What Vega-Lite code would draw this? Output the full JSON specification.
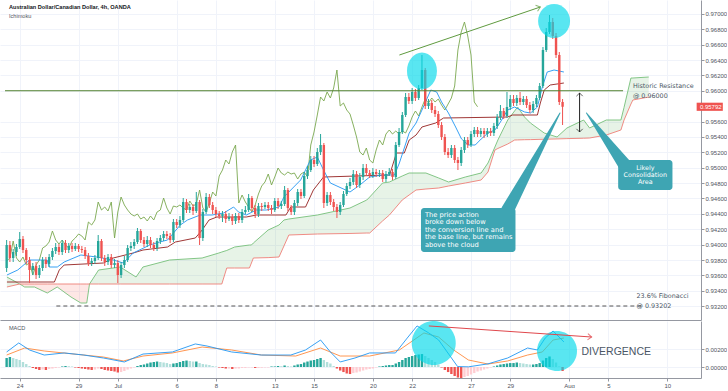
{
"$schema":"https://vega.github.io/schema/vega-lite/v6.json",
"padding":0,
"autosize":{"type":"pad"},
"background":"#ffffff",
"spacing":1,
"config":{"view":{"stroke":null},"axis":{"labelFont":"Liberation Sans","labelFontSize":6,"labelColor":"#50535e","domainColor":"#9598a1","tickColor":"#9598a1","gridColor":"#f0f3fa","labelOverlap":false}},
"datasets":{
"candles":[
{"n":-4,"o":0.93696,"h":0.9406,"l":0.93644,"c":0.93995,"m":0.001},
{"n":-3,"o":0.93995,"h":0.94047,"l":0.93774,"c":0.93826,"m":0.00111},
{"n":-2,"o":0.93826,"h":0.93943,"l":0.93774,"c":0.93904,"m":0.001},
{"n":-1,"o":0.93904,"h":0.94008,"l":0.93852,"c":0.93969,"m":0.00089},
{"n":0,"o":0.93969,"h":0.94164,"l":0.93943,"c":0.94073,"m":0.00078},
{"n":1,"o":0.94073,"h":0.94112,"l":0.93891,"c":0.9393,"m":0.00056},
{"n":2,"o":0.9393,"h":0.93956,"l":0.93748,"c":0.938,"m":0.00033},
{"n":3,"o":0.938,"h":0.93839,"l":0.93501,"c":0.9367,"m":0.00011},
{"n":4,"o":0.9367,"h":0.93761,"l":0.93605,"c":0.93722,"m":-0.00011},
{"n":5,"o":0.93722,"h":0.93774,"l":0.93553,"c":0.93605,"m":-0.00022},
{"n":6,"o":0.93605,"h":0.93735,"l":0.93566,"c":0.93696,"m":-0.00033},
{"n":7,"o":0.93696,"h":0.93839,"l":0.93657,"c":0.938,"m":-0.00028},
{"n":8,"o":0.938,"h":0.93839,"l":0.93696,"c":0.93748,"m":-0.00033},
{"n":9,"o":0.93748,"h":0.93878,"l":0.93709,"c":0.93839,"m":-0.00022},
{"n":10,"o":0.93839,"h":0.93956,"l":0.938,"c":0.93917,"m":-0.00017},
{"n":11,"o":0.93917,"h":0.94021,"l":0.93878,"c":0.93969,"m":-0.00011},
{"n":12,"o":0.93969,"h":0.94008,"l":0.93865,"c":0.93904,"m":-0.00006},
{"n":13,"o":0.93904,"h":0.9406,"l":0.93865,"c":0.94021,"m":0.00006},
{"n":14,"o":0.94021,"h":0.9406,"l":0.93891,"c":0.9393,"m":0.00011},
{"n":15,"o":0.9393,"h":0.94021,"l":0.93891,"c":0.93982,"m":0.00009},
{"n":16,"o":0.93982,"h":0.94021,"l":0.93904,"c":0.93943,"m":0.00006},
{"n":17,"o":0.93943,"h":0.94021,"l":0.93917,"c":0.93982,"m":-0.00006},
{"n":18,"o":0.93982,"h":0.94008,"l":0.93904,"c":0.93943,"m":-0.00011},
{"n":19,"o":0.93943,"h":0.93982,"l":0.93891,"c":0.9393,"m":-0.00017},
{"n":20,"o":0.9393,"h":0.93969,"l":0.93813,"c":0.93852,"m":-0.00022},
{"n":21,"o":0.93852,"h":0.93891,"l":0.93722,"c":0.93761,"m":-0.00028},
{"n":22,"o":0.93761,"h":0.93826,"l":0.93722,"c":0.93787,"m":-0.00033},
{"n":23,"o":0.93787,"h":0.93865,"l":0.93748,"c":0.93826,"m":-0.00028},
{"n":24,"o":0.93826,"h":0.94125,"l":0.938,"c":0.94047,"m":-0.00017},
{"n":25,"o":0.94047,"h":0.94073,"l":0.93787,"c":0.93826,"m":-0.00022},
{"n":26,"o":0.93826,"h":0.93865,"l":0.93722,"c":0.93774,"m":-0.00033},
{"n":27,"o":0.93774,"h":0.93878,"l":0.93735,"c":0.93839,"m":-0.00039},
{"n":28,"o":0.93839,"h":0.93878,"l":0.93696,"c":0.93735,"m":-0.00044},
{"n":29,"o":0.93735,"h":0.93813,"l":0.93696,"c":0.93761,"m":-0.0005},
{"n":30,"o":0.93761,"h":0.938,"l":0.93501,"c":0.93605,"m":-0.00061},
{"n":31,"o":0.93605,"h":0.93774,"l":0.93566,"c":0.93735,"m":-0.00056},
{"n":32,"o":0.93735,"h":0.93852,"l":0.93696,"c":0.938,"m":-0.00044},
{"n":33,"o":0.938,"h":0.93995,"l":0.93774,"c":0.93956,"m":-0.00028},
{"n":34,"o":0.93956,"h":0.94034,"l":0.93917,"c":0.93982,"m":-0.00017},
{"n":35,"o":0.93982,"h":0.94073,"l":0.93943,"c":0.94034,"m":-0.00006},
{"n":36,"o":0.94034,"h":0.94216,"l":0.94008,"c":0.94177,"m":0.00011},
{"n":37,"o":0.94177,"h":0.94203,"l":0.94021,"c":0.9406,"m":0.00022},
{"n":38,"o":0.9406,"h":0.94099,"l":0.93969,"c":0.94008,"m":0.00028},
{"n":39,"o":0.94008,"h":0.94112,"l":0.93969,"c":0.9406,"m":0.00039},
{"n":40,"o":0.9406,"h":0.94099,"l":0.93956,"c":0.93995,"m":0.0005},
{"n":41,"o":0.93995,"h":0.94034,"l":0.93917,"c":0.93956,"m":0.00056},
{"n":42,"o":0.93956,"h":0.94086,"l":0.93917,"c":0.94047,"m":0.00061},
{"n":43,"o":0.94047,"h":0.94125,"l":0.94008,"c":0.94086,"m":0.00056},
{"n":44,"o":0.94086,"h":0.94177,"l":0.94047,"c":0.94138,"m":0.0005},
{"n":45,"o":0.94138,"h":0.94177,"l":0.94073,"c":0.94112,"m":0.00044},
{"n":46,"o":0.94112,"h":0.94151,"l":0.94021,"c":0.9406,"m":0.00033},
{"n":47,"o":0.9406,"h":0.94333,"l":0.94034,"c":0.94294,"m":0.00039},
{"n":48,"o":0.94294,"h":0.94333,"l":0.94216,"c":0.94255,"m":0.00044},
{"n":49,"o":0.94255,"h":0.94372,"l":0.94216,"c":0.9432,"m":0.00056},
{"n":50,"o":0.9432,"h":0.94606,"l":0.94294,"c":0.94554,"m":0.00067},
{"n":51,"o":0.94554,"h":0.94593,"l":0.94411,"c":0.9445,"m":0.00072},
{"n":52,"o":0.9445,"h":0.94528,"l":0.94411,"c":0.94489,"m":0.00067},
{"n":53,"o":0.94489,"h":0.94528,"l":0.94385,"c":0.94437,"m":0.00061},
{"n":54,"o":0.94437,"h":0.94684,"l":0.94411,"c":0.94554,"m":0.00061},
{"n":55,"o":0.94554,"h":0.9458,"l":0.93995,"c":0.94086,"m":0.00044},
{"n":56,"o":0.94086,"h":0.94463,"l":0.94047,"c":0.94424,"m":0.00033},
{"n":57,"o":0.94424,"h":0.94671,"l":0.94398,"c":0.94619,"m":0.00028},
{"n":58,"o":0.94619,"h":0.94658,"l":0.94476,"c":0.94515,"m":0.00022},
{"n":59,"o":0.94515,"h":0.94554,"l":0.94398,"c":0.9445,"m":0.00011},
{"n":60,"o":0.9445,"h":0.94489,"l":0.94359,"c":0.94398,"m":0.00006},
{"n":61,"o":0.94398,"h":0.94437,"l":0.94333,"c":0.94372,"m":-0.00006},
{"n":62,"o":0.94372,"h":0.94437,"l":0.94294,"c":0.94398,"m":-0.00011},
{"n":63,"o":0.94398,"h":0.94437,"l":0.94281,"c":0.94333,"m":-0.00017},
{"n":64,"o":0.94333,"h":0.94411,"l":0.94307,"c":0.94359,"m":-0.00017},
{"n":65,"o":0.94359,"h":0.94398,"l":0.94255,"c":0.94307,"m":-0.00022},
{"n":66,"o":0.94307,"h":0.94411,"l":0.94268,"c":0.94372,"m":-0.00017},
{"n":67,"o":0.94372,"h":0.94411,"l":0.94281,"c":0.9432,"m":-0.00017},
{"n":68,"o":0.9432,"h":0.94463,"l":0.94281,"c":0.94424,"m":-0.00011},
{"n":69,"o":0.94424,"h":0.94502,"l":0.94398,"c":0.9445,"m":-0.00011},
{"n":70,"o":0.9445,"h":0.94658,"l":0.94424,"c":0.94606,"m":-0.00006},
{"n":71,"o":0.94606,"h":0.94632,"l":0.94437,"c":0.94476,"m":-0.00006},
{"n":72,"o":0.94476,"h":0.94515,"l":0.94346,"c":0.94398,"m":-0.00011},
{"n":73,"o":0.94398,"h":0.94541,"l":0.94359,"c":0.94502,"m":-0.00011},
{"n":74,"o":0.94502,"h":0.94541,"l":0.94437,"c":0.94489,"m":-0.00009},
{"n":75,"o":0.94489,"h":0.94554,"l":0.94463,"c":0.94515,"m":-0.00006},
{"n":76,"o":0.94515,"h":0.94554,"l":0.94437,"c":0.94476,"m":-0.00006},
{"n":77,"o":0.94476,"h":0.94515,"l":0.94398,"c":0.9445,"m":0.00006},
{"n":78,"o":0.9445,"h":0.94606,"l":0.94424,"c":0.94567,"m":0.00006},
{"n":79,"o":0.94567,"h":0.94606,"l":0.94463,"c":0.94502,"m":0.00011},
{"n":80,"o":0.94502,"h":0.94567,"l":0.94463,"c":0.94528,"m":0.00009},
{"n":81,"o":0.94528,"h":0.94762,"l":0.94502,"c":0.9471,"m":0.00017},
{"n":82,"o":0.9471,"h":0.94736,"l":0.94437,"c":0.94476,"m":0.00011},
{"n":83,"o":0.94476,"h":0.94515,"l":0.94385,"c":0.94424,"m":0.00006},
{"n":84,"o":0.94424,"h":0.9458,"l":0.94385,"c":0.94541,"m":0.00017},
{"n":85,"o":0.94541,"h":0.94723,"l":0.94502,"c":0.94684,"m":0.00028},
{"n":86,"o":0.94684,"h":0.94723,"l":0.94593,"c":0.94632,"m":0.00033},
{"n":87,"o":0.94632,"h":0.94944,"l":0.94606,"c":0.94892,"m":0.0005},
{"n":88,"o":0.94892,"h":0.95022,"l":0.94853,"c":0.9497,"m":0.00061},
{"n":89,"o":0.9497,"h":0.95152,"l":0.94944,"c":0.951,"m":0.00072},
{"n":90,"o":0.951,"h":0.95152,"l":0.95009,"c":0.95048,"m":0.00078},
{"n":91,"o":0.95048,"h":0.95256,"l":0.95022,"c":0.95204,"m":0.00089},
{"n":92,"o":0.95204,"h":0.95438,"l":0.95165,"c":0.95295,"m":0.001},
{"n":93,"o":0.95295,"h":0.95321,"l":0.94476,"c":0.94541,"m":0.00078},
{"n":94,"o":0.94541,"h":0.94684,"l":0.94502,"c":0.94645,"m":0.00056},
{"n":95,"o":0.94645,"h":0.94684,"l":0.94515,"c":0.94554,"m":0.00039},
{"n":96,"o":0.94554,"h":0.94593,"l":0.94437,"c":0.94489,"m":0.00011},
{"n":97,"o":0.94489,"h":0.94528,"l":0.94346,"c":0.94424,"m":-0.00017},
{"n":98,"o":0.94424,"h":0.94554,"l":0.94385,"c":0.94515,"m":-0.00039},
{"n":99,"o":0.94515,"h":0.94697,"l":0.94489,"c":0.94658,"m":-0.00056},
{"n":100,"o":0.94658,"h":0.94801,"l":0.94632,"c":0.94762,"m":-0.00072},
{"n":101,"o":0.94762,"h":0.94866,"l":0.94723,"c":0.94814,"m":-0.00078},
{"n":102,"o":0.94814,"h":0.9497,"l":0.94775,"c":0.94918,"m":-0.00067},
{"n":103,"o":0.94918,"h":0.94957,"l":0.94736,"c":0.94775,"m":-0.00061},
{"n":104,"o":0.94775,"h":0.94931,"l":0.94736,"c":0.94879,"m":-0.0005},
{"n":105,"o":0.94879,"h":0.95048,"l":0.9484,"c":0.94996,"m":-0.00039},
{"n":106,"o":0.94996,"h":0.95048,"l":0.94892,"c":0.94931,"m":-0.00028},
{"n":107,"o":0.94931,"h":0.9497,"l":0.94866,"c":0.94905,"m":-0.00022},
{"n":108,"o":0.94905,"h":0.94996,"l":0.94866,"c":0.94944,"m":-0.00017},
{"n":109,"o":0.94944,"h":0.94983,"l":0.94879,"c":0.94918,"m":-0.00006},
{"n":110,"o":0.94918,"h":0.9497,"l":0.94879,"c":0.94931,"m":0.00006},
{"n":111,"o":0.94931,"h":0.9497,"l":0.94814,"c":0.94853,"m":0.00011},
{"n":112,"o":0.94853,"h":0.94957,"l":0.94814,"c":0.94918,"m":0.00017},
{"n":113,"o":0.94918,"h":0.94996,"l":0.94892,"c":0.94944,"m":0.00022},
{"n":114,"o":0.94944,"h":0.94983,"l":0.9484,"c":0.94879,"m":0.00022},
{"n":115,"o":0.94879,"h":0.95334,"l":0.94853,"c":0.95295,"m":0.00039},
{"n":116,"o":0.95295,"h":0.95516,"l":0.95269,"c":0.95464,"m":0.00056},
{"n":117,"o":0.95464,"h":0.95724,"l":0.95438,"c":0.95685,"m":0.00078},
{"n":118,"o":0.95685,"h":0.95971,"l":0.95659,"c":0.95919,"m":0.001},
{"n":119,"o":0.95919,"h":0.95971,"l":0.95828,"c":0.95867,"m":0.00111},
{"n":120,"o":0.95867,"h":0.96036,"l":0.95828,"c":0.95984,"m":0.00122},
{"n":121,"o":0.95984,"h":0.96023,"l":0.95867,"c":0.95906,"m":0.00133},
{"n":122,"o":0.95906,"h":0.96075,"l":0.9588,"c":0.96036,"m":0.00139},
{"n":123,"o":0.96036,"h":0.96465,"l":0.9601,"c":0.9627,"m":0.00144},
{"n":124,"o":0.9627,"h":0.96296,"l":0.95763,"c":0.95802,"m":0.00122},
{"n":125,"o":0.95802,"h":0.95893,"l":0.95763,"c":0.95841,"m":0.001},
{"n":126,"o":0.95841,"h":0.9588,"l":0.95711,"c":0.9575,"m":0.00078},
{"n":127,"o":0.9575,"h":0.95802,"l":0.95659,"c":0.95698,"m":0.00056},
{"n":128,"o":0.95698,"h":0.95737,"l":0.95516,"c":0.95555,"m":0.00028},
{"n":129,"o":0.95555,"h":0.95594,"l":0.9536,"c":0.95399,"m":-0.00006},
{"n":130,"o":0.95399,"h":0.95438,"l":0.95165,"c":0.95204,"m":-0.00033},
{"n":131,"o":0.95204,"h":0.95256,"l":0.95126,"c":0.95165,"m":-0.00056},
{"n":132,"o":0.95165,"h":0.95295,"l":0.95126,"c":0.95256,"m":-0.00078},
{"n":133,"o":0.95256,"h":0.95295,"l":0.95061,"c":0.951,"m":-0.001},
{"n":134,"o":0.951,"h":0.95139,"l":0.9497,"c":0.95061,"m":-0.00117},
{"n":135,"o":0.95061,"h":0.95269,"l":0.95022,"c":0.9523,"m":-0.00122},
{"n":136,"o":0.9523,"h":0.95399,"l":0.95191,"c":0.9536,"m":-0.00111},
{"n":137,"o":0.9536,"h":0.95399,"l":0.95256,"c":0.95295,"m":-0.001},
{"n":138,"o":0.95295,"h":0.95477,"l":0.95269,"c":0.95438,"m":-0.00083},
{"n":139,"o":0.95438,"h":0.95529,"l":0.95399,"c":0.9549,"m":-0.00067},
{"n":140,"o":0.9549,"h":0.95529,"l":0.95399,"c":0.95438,"m":-0.0005},
{"n":141,"o":0.95438,"h":0.95516,"l":0.95399,"c":0.95477,"m":-0.00039},
{"n":142,"o":0.95477,"h":0.95516,"l":0.95386,"c":0.95438,"m":-0.00028},
{"n":143,"o":0.95438,"h":0.95516,"l":0.95399,"c":0.95477,"m":-0.00017},
{"n":144,"o":0.95477,"h":0.95516,"l":0.95412,"c":0.95451,"m":-0.00006},
{"n":145,"o":0.95451,"h":0.95581,"l":0.95412,"c":0.95542,"m":0.00006},
{"n":146,"o":0.95542,"h":0.95698,"l":0.95503,"c":0.95659,"m":0.00017},
{"n":147,"o":0.95659,"h":0.95815,"l":0.9562,"c":0.95737,"m":0.00028},
{"n":148,"o":0.95737,"h":0.95776,"l":0.95633,"c":0.95672,"m":0.00033},
{"n":149,"o":0.95672,"h":0.95984,"l":0.95646,"c":0.95789,"m":0.00039},
{"n":150,"o":0.95789,"h":0.95945,"l":0.9575,"c":0.95893,"m":0.00044},
{"n":151,"o":0.95893,"h":0.95945,"l":0.95802,"c":0.95841,"m":0.00044},
{"n":152,"o":0.95841,"h":0.95945,"l":0.95802,"c":0.95906,"m":0.0005},
{"n":153,"o":0.95906,"h":0.95984,"l":0.95815,"c":0.95854,"m":0.00044},
{"n":154,"o":0.95854,"h":0.95932,"l":0.95815,"c":0.95893,"m":0.00039},
{"n":155,"o":0.95893,"h":0.95932,"l":0.95776,"c":0.95815,"m":0.00033},
{"n":156,"o":0.95815,"h":0.95854,"l":0.95711,"c":0.9575,"m":0.00028},
{"n":157,"o":0.9575,"h":0.95867,"l":0.95711,"c":0.95828,"m":0.00028},
{"n":158,"o":0.95828,"h":0.95945,"l":0.95789,"c":0.95906,"m":0.00033},
{"n":159,"o":0.95906,"h":0.96101,"l":0.9588,"c":0.96062,"m":0.00044},
{"n":160,"o":0.96062,"h":0.96569,"l":0.96036,"c":0.9653,"m":0.00072},
{"n":161,"o":0.9653,"h":0.96816,"l":0.96504,"c":0.96764,"m":0.001},
{"n":162,"o":0.96764,"h":0.96985,"l":0.96738,"c":0.96894,"m":0.00117},
{"n":163,"o":0.96894,"h":0.96946,"l":0.96673,"c":0.96712,"m":0.00089},
{"n":164,"o":0.96712,"h":0.96751,"l":0.96426,"c":0.96465,"m":0.0005},
{"n":165,"o":0.96465,"h":0.96504,"l":0.95815,"c":0.95854,"m":0.00006},
{"n":166,"o":0.95854,"h":0.95893,"l":0.95555,"c":0.95792,"m":-0.00044}
],
"cloud":[
{"n":-3.92,"a":0.93579,"b":0.93449,"s":"g1"},
{"n":0,"a":0.93488,"b":0.93488,"s":"g1"},
{"n":0,"a":0.93488,"b":0.93488,"s":"r"},
{"n":1.51,"a":0.93449,"b":0.93488,"s":"r"},
{"n":4.52,"a":0.93449,"b":0.93488,"s":"r"},
{"n":8.44,"a":0.93371,"b":0.93488,"s":"r"},
{"n":11.46,"a":0.93449,"b":0.93488,"s":"r"},
{"n":15.68,"a":0.93319,"b":0.93488,"s":"r"},
{"n":18.69,"a":0.93241,"b":0.93488,"s":"r"},
{"n":20.5,"a":0.93241,"b":0.93488,"s":"r"},
{"n":21.34,"a":0.93488,"b":0.93488,"s":"r"},
{"n":21.34,"a":0.93488,"b":0.93488,"s":"g2"},
{"n":24.12,"a":0.9367,"b":0.93488,"s":"g2"},
{"n":30.75,"a":0.93709,"b":0.93488,"s":"g2"},
{"n":35.57,"a":0.93579,"b":0.93488,"s":"g2"},
{"n":37.68,"a":0.93709,"b":0.93488,"s":"g2"},
{"n":45.82,"a":0.938,"b":0.93488,"s":"g2"},
{"n":55.77,"a":0.93826,"b":0.93488,"s":"g2"},
{"n":60.9,"a":0.93891,"b":0.93488,"s":"g2"},
{"n":61.8,"a":0.93904,"b":0.93488,"s":"g2"},
{"n":63.31,"a":0.93924,"b":0.93696,"s":"g2"},
{"n":65.72,"a":0.93969,"b":0.93696,"s":"g2"},
{"n":70.24,"a":0.93995,"b":0.93696,"s":"g2"},
{"n":70.85,"a":0.93995,"b":0.93761,"s":"g2"},
{"n":71.45,"a":0.94021,"b":0.93826,"s":"g2"},
{"n":75.97,"a":0.9419,"b":0.93831,"s":"g2"},
{"n":79.29,"a":0.94255,"b":0.93839,"s":"g2"},
{"n":80.8,"a":0.9432,"b":0.93982,"s":"g2"},
{"n":82.3,"a":0.94333,"b":0.94125,"s":"g2"},
{"n":91.05,"a":0.94385,"b":0.94138,"s":"g2"},
{"n":100.99,"a":0.94476,"b":0.94145,"s":"g2"},
{"n":106.12,"a":0.9458,"b":0.94151,"s":"g2"},
{"n":107.03,"a":0.94619,"b":0.94151,"s":"g2"},
{"n":110.94,"a":0.94801,"b":0.94307,"s":"g2"},
{"n":113.05,"a":0.94814,"b":0.94385,"s":"g2"},
{"n":116.97,"a":0.94892,"b":0.9458,"s":"g2"},
{"n":119.08,"a":0.94931,"b":0.94645,"s":"g2"},
{"n":121.19,"a":0.94931,"b":0.9471,"s":"g2"},
{"n":124.21,"a":0.94931,"b":0.94723,"s":"g2"},
{"n":128.13,"a":0.94866,"b":0.94736,"s":"g2"},
{"n":131.14,"a":0.94814,"b":0.94762,"s":"g2"},
{"n":136.27,"a":0.94879,"b":0.94801,"s":"g2"},
{"n":141.09,"a":0.94931,"b":0.9484,"s":"g2"},
{"n":143.2,"a":0.95061,"b":0.94944,"s":"g2"},
{"n":145.31,"a":0.95269,"b":0.9523,"s":"g2"},
{"n":146.22,"a":0.9536,"b":0.9525,"s":"g2"},
{"n":149.23,"a":0.9562,"b":0.95308,"s":"g2"},
{"n":151.34,"a":0.95738,"b":0.9536,"s":"g2"},
{"n":152.25,"a":0.95789,"b":0.95361,"s":"g2"},
{"n":154.36,"a":0.95659,"b":0.95364,"s":"g2"},
{"n":156.17,"a":0.95581,"b":0.95365,"s":"g2"},
{"n":160.39,"a":0.95451,"b":0.9537,"s":"g2"},
{"n":164.31,"a":0.95399,"b":0.95374,"s":"g2"},
{"n":167.32,"a":0.95516,"b":0.95378,"s":"g2"},
{"n":172.45,"a":0.9562,"b":0.95383,"s":"g2"},
{"n":174.26,"a":0.95516,"b":0.95386,"s":"g2"},
{"n":179.38,"a":0.9562,"b":0.95425,"s":"g2"},
{"n":183.84,"a":0.9562,"b":0.9549,"s":"g2"},
{"n":184.8,"a":0.95784,"b":0.9562,"s":"g2"},
{"n":186.9,"a":0.96166,"b":0.95828,"s":"g2"},
{"n":187.5,"a":0.96166,"b":0.9588,"s":"g2"},
{"n":192.35,"a":0.96179,"b":0.95919,"s":"g2"}
],
"tenkan":[
{"n":-3.9,"p":0.93605},{"n":-0.6,"p":0.9367},{"n":3.0,"p":0.938},{"n":8.4,"p":0.938},{"n":9.0,"p":0.93709},{"n":11.5,"p":0.93709},{"n":13.6,"p":0.93774},{"n":18.7,"p":0.93865},{"n":23.5,"p":0.93839},{"n":28.6,"p":0.938},{"n":31.7,"p":0.93761},{"n":34.7,"p":0.93891},{"n":39.8,"p":0.93995},{"n":42.8,"p":0.94034},{"n":45.2,"p":0.9406},{"n":49.1,"p":0.94255},{"n":51.3,"p":0.9432},{"n":55.2,"p":0.94385},{"n":58.8,"p":0.94385},{"n":62.4,"p":0.94411},{"n":65.4,"p":0.94489},{"n":66.9,"p":0.94424},{"n":69.3,"p":0.94385},{"n":72.3,"p":0.9445},{"n":75.4,"p":0.9445},{"n":79.3,"p":0.94489},{"n":80.8,"p":0.94619},{"n":83.8,"p":0.94749},{"n":85.9,"p":0.9484},{"n":88.9,"p":0.951},{"n":91.0,"p":0.95139},{"n":92.9,"p":0.9497},{"n":95.0,"p":0.94801},{"n":101.0,"p":0.94684},{"n":104.0,"p":0.94775},{"n":107.0,"p":0.94879},{"n":110.9,"p":0.94905},{"n":114.6,"p":0.94905},{"n":116.1,"p":0.95061},{"n":119.1,"p":0.95451},{"n":121.2,"p":0.95581},{"n":123.0,"p":0.9575},{"n":125.7,"p":0.9601},{"n":127.5,"p":0.95984},{"n":129.0,"p":0.95854},{"n":131.1,"p":0.95711},{"n":133.3,"p":0.95529},{"n":135.1,"p":0.95373},{"n":137.2,"p":0.95295},{"n":139.3,"p":0.95295},{"n":141.1,"p":0.95373},{"n":143.2,"p":0.95451},{"n":145.3,"p":0.9549},{"n":146.8,"p":0.95581},{"n":149.2,"p":0.9575},{"n":151.3,"p":0.95789},{"n":154.4,"p":0.95724},{"n":156.2,"p":0.95711},{"n":158.3,"p":0.95789},{"n":159.8,"p":0.96049},{"n":161.3,"p":0.96244},{"n":163.4,"p":0.9627},{"n":166.4,"p":0.96244}
],
"kijun":[
{"n":-3.9,"p":0.93514},{"n":10.6,"p":0.93514},{"n":12.1,"p":0.9367},{"n":13.6,"p":0.93735},{"n":25.6,"p":0.93761},{"n":28.6,"p":0.93826},{"n":34.7,"p":0.93891},{"n":37.7,"p":0.9393},{"n":45.2,"p":0.93969},{"n":47.6,"p":0.94034},{"n":53.7,"p":0.94086},{"n":55.8,"p":0.9419},{"n":57.9,"p":0.9432},{"n":60.3,"p":0.94359},{"n":69.3,"p":0.94359},{"n":72.4,"p":0.94385},{"n":81.4,"p":0.94385},{"n":82.9,"p":0.94489},{"n":87.4,"p":0.94489},{"n":89.8,"p":0.9471},{"n":92.9,"p":0.94879},{"n":113.1,"p":0.94905},{"n":115.2,"p":0.95191},{"n":117.6,"p":0.95191},{"n":119.1,"p":0.9536},{"n":121.2,"p":0.95425},{"n":123.0,"p":0.95529},{"n":127.2,"p":0.95581},{"n":129.6,"p":0.95646},{"n":149.2,"p":0.95659},{"n":150.7,"p":0.95685},{"n":158.3,"p":0.95685},{"n":159.2,"p":0.95841},{"n":160.4,"p":0.9601},{"n":162.2,"p":0.96075},{"n":166.4,"p":0.96101}
],
"macd":[
{"n":-4,"v":0.00167},{"n":-0.3,"v":0.00267},{"n":3.0,"v":0.00189},{"n":7.5,"v":0.00133},{"n":13.6,"v":0.00156},{"n":19.6,"v":0.00133},{"n":25.6,"v":0.001},{"n":32.0,"v":0.00056},{"n":37.7,"v":0.00144},{"n":46.7,"v":0.00167},{"n":53.7,"v":0.00256},{"n":57.3,"v":0.00233},{"n":64.8,"v":0.00167},{"n":73.9,"v":0.00133},{"n":82.9,"v":0.00133},{"n":87.4,"v":0.00189},{"n":92.0,"v":0.003},{"n":95.0,"v":0.00167},{"n":98.0,"v":0.00056},{"n":102.5,"v":0.001},{"n":107.0,"v":0.00156},{"n":114.9,"v":0.00156},{"n":118.5,"v":0.00322},{"n":121.5,"v":0.00456},{"n":125.1,"v":0.00378},{"n":128.1,"v":0.003},{"n":133.9,"v":0.00005},{"n":137.2,"v":0.00002},{"n":143.2,"v":0.00035},{"n":149.2,"v":0.001},{"n":155.3,"v":0.00211},{"n":158.3,"v":0.00189},{"n":160.7,"v":0.00322},{"n":163.1,"v":0.004},{"n":166.4,"v":0.00278}
],
"signal":[
{"n":-4,"v":0.00133},{"n":1.5,"v":0.00211},{"n":7.5,"v":0.00178},{"n":16.6,"v":0.00144},{"n":25.6,"v":0.00111},{"n":31.7,"v":0.00067},{"n":37.7,"v":0.00122},{"n":46.7,"v":0.00156},{"n":55.8,"v":0.00222},{"n":64.8,"v":0.00189},{"n":73.9,"v":0.00133},{"n":84.4,"v":0.00122},{"n":92.0,"v":0.00211},{"n":98.0,"v":0.00122},{"n":107.0,"v":0.00122},{"n":116.1,"v":0.00189},{"n":123.6,"v":0.00378},{"n":128.1,"v":0.00333},{"n":132.7,"v":0.00189},{"n":137.2,"v":0.00078},{"n":143.2,"v":0.00033},{"n":149.2,"v":0.00067},{"n":155.3,"v":0.00133},{"n":159.8,"v":0.00167},{"n":163.1,"v":0.003},{"n":166.4,"v":0.00322}
]
},
"vconcat":[
{
"width":701,"height":320,
"encoding":{"x":{"field":"n","type":"quantitative","scale":{"domain":[-4.5,206.8],"nice":false,"zero":false},"axis":{"values":[0,18,30,48,60,78,90,108,120,138,150,168,180,198],"labels":false,"ticks":false,"grid":true,"domain":true,"title":null}}},
"layer":[
{"data":{"name":"cloud"},"transform":[{"filter":"datum.s != 'r'"}],"mark":{"type":"area","color":"#43a047","opacity":0.13},
 "encoding":{"y":{"field":"a","type":"quantitative","scale":{"domain":[0.9302,0.9718],"nice":false,"zero":false},"title":null,"axis":{"orient":"right","values":[0.932,0.934,0.936,0.938,0.94,0.942,0.944,0.946,0.948,0.95,0.952,0.954,0.956,0.96,0.962,0.964,0.966,0.968,0.97],"format":".5f","grid":true,"tickSize":3,"labelPadding":1,"labelOverlap":false,"title":null}},"y2":{"field":"b"},"detail":{"field":"s"}}},
{"data":{"name":"cloud"},"transform":[{"filter":"datum.s == 'r'"}],"mark":{"type":"area","color":"#f44336","opacity":0.13},
 "encoding":{"y":{"field":"a","type":"quantitative","scale":{"domain":[0.9302,0.9718],"nice":false,"zero":false},"title":null,"axis":{"orient":"right","values":[0.932,0.934,0.936,0.938,0.94,0.942,0.944,0.946,0.948,0.95,0.952,0.954,0.956,0.96,0.962,0.964,0.966,0.968,0.97],"format":".5f","grid":true,"tickSize":3,"labelPadding":1,"labelOverlap":false,"title":null}},"y2":{"field":"b"}}},
{"data":{"name":"cloud"},"mark":{"type":"line","color":"#76bf79","strokeWidth":0.9},
 "encoding":{"y":{"field":"a","type":"quantitative","scale":{"domain":[0.9302,0.9718],"nice":false,"zero":false},"title":null,"axis":{"orient":"right","values":[0.932,0.934,0.936,0.938,0.94,0.942,0.944,0.946,0.948,0.95,0.952,0.954,0.956,0.96,0.962,0.964,0.966,0.968,0.97],"format":".5f","grid":true,"tickSize":3,"labelPadding":1,"labelOverlap":false,"title":null}}}},
{"data":{"name":"cloud"},"mark":{"type":"line","color":"#ee7f77","strokeWidth":0.9},
 "encoding":{"y":{"field":"b","type":"quantitative","scale":{"domain":[0.9302,0.9718],"nice":false,"zero":false},"title":null,"axis":{"orient":"right","values":[0.932,0.934,0.936,0.938,0.94,0.942,0.944,0.946,0.948,0.95,0.952,0.954,0.956,0.96,0.962,0.964,0.966,0.968,0.97],"format":".5f","grid":true,"tickSize":3,"labelPadding":1,"labelOverlap":false,"title":null}}}},
{"data":{"name":"candles"},"transform":[{"window":[{"op":"lead","field":"c","param":26,"as":"k"}],"sort":[{"field":"n","order":"ascending"}]},{"filter":"datum.k != null"}],
 "mark":{"type":"line","color":"#7aa84f","strokeWidth":0.9},
 "encoding":{"y":{"field":"k","type":"quantitative","scale":{"domain":[0.9302,0.9718],"nice":false,"zero":false},"title":null,"axis":{"orient":"right","values":[0.932,0.934,0.936,0.938,0.94,0.942,0.944,0.946,0.948,0.95,0.952,0.954,0.956,0.96,0.962,0.964,0.966,0.968,0.97],"format":".5f","grid":true,"tickSize":3,"labelPadding":1,"labelOverlap":false,"title":null}}}},
{"data":{"name":"kijun"},"mark":{"type":"line","color":"#94201f","strokeWidth":0.9},
 "encoding":{"y":{"field":"p","type":"quantitative","scale":{"domain":[0.9302,0.9718],"nice":false,"zero":false},"title":null,"axis":{"orient":"right","values":[0.932,0.934,0.936,0.938,0.94,0.942,0.944,0.946,0.948,0.95,0.952,0.954,0.956,0.96,0.962,0.964,0.966,0.968,0.97],"format":".5f","grid":true,"tickSize":3,"labelPadding":1,"labelOverlap":false,"title":null}}}},
{"data":{"name":"tenkan"},"mark":{"type":"line","color":"#2196f3","strokeWidth":0.9},
 "encoding":{"y":{"field":"p","type":"quantitative","scale":{"domain":[0.9302,0.9718],"nice":false,"zero":false},"title":null,"axis":{"orient":"right","values":[0.932,0.934,0.936,0.938,0.94,0.942,0.944,0.946,0.948,0.95,0.952,0.954,0.956,0.96,0.962,0.964,0.966,0.968,0.97],"format":".5f","grid":true,"tickSize":3,"labelPadding":1,"labelOverlap":false,"title":null}}}},
{"data":{"name":"candles"},"mark":{"type":"rule","strokeWidth":1},
 "encoding":{"y":{"field":"l","type":"quantitative","scale":{"domain":[0.9302,0.9718],"nice":false,"zero":false},"title":null,"axis":{"orient":"right","values":[0.932,0.934,0.936,0.938,0.94,0.942,0.944,0.946,0.948,0.95,0.952,0.954,0.956,0.96,0.962,0.964,0.966,0.968,0.97],"format":".5f","grid":true,"tickSize":3,"labelPadding":1,"labelOverlap":false,"title":null}},"y2":{"field":"h"},
 "color":{"condition":{"test":"datum.c >= datum.o","value":"#26a69a"},"value":"#ef5350"}}},
{"data":{"name":"candles"},"mark":{"type":"bar","size":2.4},
 "encoding":{"y":{"field":"o","type":"quantitative","scale":{"domain":[0.9302,0.9718],"nice":false,"zero":false},"title":null,"axis":{"orient":"right","values":[0.932,0.934,0.936,0.938,0.94,0.942,0.944,0.946,0.948,0.95,0.952,0.954,0.956,0.96,0.962,0.964,0.966,0.968,0.97],"format":".5f","grid":true,"tickSize":3,"labelPadding":1,"labelOverlap":false,"title":null}},"y2":{"field":"c"},
 "color":{"condition":{"test":"datum.c >= datum.o","value":"#26a69a"},"value":"#ef5350"}}},
{"data":{"values":[{"n":-4.5,"n2":184.5,"p":0.96}]},"mark":{"type":"rule","color":"#4f7f2c","strokeWidth":1.2},
 "encoding":{"x2":{"field":"n2"},"y":{"field":"p","type":"quantitative","scale":{"domain":[0.9302,0.9718],"nice":false,"zero":false},"title":null,"axis":{"orient":"right","values":[0.932,0.934,0.936,0.938,0.94,0.942,0.944,0.946,0.948,0.95,0.952,0.954,0.956,0.96,0.962,0.964,0.966,0.968,0.97],"format":".5f","grid":true,"tickSize":3,"labelPadding":1,"labelOverlap":false,"title":null}}}},
{"data":{"values":[{"n":11.2,"n2":190.8,"p":0.93202}]},"mark":{"type":"rule","color":"#555555","strokeWidth":1,"strokeDash":[4,3]},
 "encoding":{"x2":{"field":"n2"},"y":{"field":"p","type":"quantitative","scale":{"domain":[0.9302,0.9718],"nice":false,"zero":false},"title":null,"axis":{"orient":"right","values":[0.932,0.934,0.936,0.938,0.94,0.942,0.944,0.946,0.948,0.95,0.952,0.954,0.956,0.96,0.962,0.964,0.966,0.968,0.97],"format":".5f","grid":true,"tickSize":3,"labelPadding":1,"labelOverlap":false,"title":null}}}},
{"data":{"values":[{"n":123.0,"p":0.96257}]},"mark":{"type":"point","filled":true,"color":"#00d8ea","opacity":0.65,"size":1369,"shape":"M0,-1A0.81,1,0,1,1,0,1A0.81,1,0,1,1,0,-1Z"},
 "encoding":{"y":{"field":"p","type":"quantitative","scale":{"domain":[0.9302,0.9718],"nice":false,"zero":false},"title":null,"axis":{"orient":"right","values":[0.932,0.934,0.936,0.938,0.94,0.942,0.944,0.946,0.948,0.95,0.952,0.954,0.956,0.96,0.962,0.964,0.966,0.968,0.97],"format":".5f","grid":true,"tickSize":3,"labelPadding":1,"labelOverlap":false,"title":null}}}},
{"data":{"values":[{"n":163.4,"p":0.96907}]},"mark":{"type":"point","filled":true,"color":"#00d8ea","opacity":0.65,"size":1156,"shape":"M0,-1A0.94,1,0,1,1,0,1A0.94,1,0,1,1,0,-1Z"},
 "encoding":{"y":{"field":"p","type":"quantitative","scale":{"domain":[0.9302,0.9718],"nice":false,"zero":false},"title":null,"axis":{"orient":"right","values":[0.932,0.934,0.936,0.938,0.94,0.942,0.944,0.946,0.948,0.95,0.952,0.954,0.956,0.96,0.962,0.964,0.966,0.968,0.97],"format":".5f","grid":true,"tickSize":3,"labelPadding":1,"labelOverlap":false,"title":null}}}},
{"data":{"values":[{"n":116.1,"n2":159.2,"p":0.96465,"p2":0.97089}]},"mark":{"type":"rule","color":"#5f9a3f","strokeWidth":1},
 "encoding":{"x2":{"field":"n2"},"y":{"field":"p","type":"quantitative","scale":{"domain":[0.9302,0.9718],"nice":false,"zero":false},"title":null,"axis":{"orient":"right","values":[0.932,0.934,0.936,0.938,0.94,0.942,0.944,0.946,0.948,0.95,0.952,0.954,0.956,0.96,0.962,0.964,0.966,0.968,0.97],"format":".5f","grid":true,"tickSize":3,"labelPadding":1,"labelOverlap":false,"title":null}},"y2":{"field":"p2"}}},
{"data":{"values":[{"n":159.2,"p":0.97089}]},"mark":{"type":"point","filled":false,"color":"#5f9a3f","strokeWidth":1,"size":64,"angle":-18.6,"shape":"M-1,-0.8L0,0L-1,0.8"},
 "encoding":{"y":{"field":"p","type":"quantitative","scale":{"domain":[0.9302,0.9718],"nice":false,"zero":false},"title":null,"axis":{"orient":"right","values":[0.932,0.934,0.936,0.938,0.94,0.942,0.944,0.946,0.948,0.95,0.952,0.954,0.956,0.96,0.962,0.964,0.966,0.968,0.97],"format":".5f","grid":true,"tickSize":3,"labelPadding":1,"labelOverlap":false,"title":null}}}},
{"data":{"values":[{"n":171.2,"p":0.95464,"p2":0.95971}]},"mark":{"type":"rule","color":"#222222","strokeWidth":1},
 "encoding":{"y":{"field":"p","type":"quantitative","scale":{"domain":[0.9302,0.9718],"nice":false,"zero":false},"title":null,"axis":{"orient":"right","values":[0.932,0.934,0.936,0.938,0.94,0.942,0.944,0.946,0.948,0.95,0.952,0.954,0.956,0.96,0.962,0.964,0.966,0.968,0.97],"format":".5f","grid":true,"tickSize":3,"labelPadding":1,"labelOverlap":false,"title":null}},"y2":{"field":"p2"}}},
{"data":{"values":[{"n":171.2,"p":0.95971}]},"mark":{"type":"point","filled":false,"color":"#222222","strokeWidth":1,"size":49,"shape":"M-0.9,0.9L0,0L0.9,0.9"},
 "encoding":{"y":{"field":"p","type":"quantitative","scale":{"domain":[0.9302,0.9718],"nice":false,"zero":false},"title":null,"axis":{"orient":"right","values":[0.932,0.934,0.936,0.938,0.94,0.942,0.944,0.946,0.948,0.95,0.952,0.954,0.956,0.96,0.962,0.964,0.966,0.968,0.97],"format":".5f","grid":true,"tickSize":3,"labelPadding":1,"labelOverlap":false,"title":null}}}},
{"data":{"values":[{"n":171.2,"p":0.95464}]},"mark":{"type":"point","filled":false,"color":"#222222","strokeWidth":1,"size":49,"shape":"M-0.9,-0.9L0,0L0.9,-0.9"},
 "encoding":{"y":{"field":"p","type":"quantitative","scale":{"domain":[0.9302,0.9718],"nice":false,"zero":false},"title":null,"axis":{"orient":"right","values":[0.932,0.934,0.936,0.938,0.94,0.942,0.944,0.946,0.948,0.95,0.952,0.954,0.956,0.96,0.962,0.964,0.966,0.968,0.97],"format":".5f","grid":true,"tickSize":3,"labelPadding":1,"labelOverlap":false,"title":null}}}},
{"data":{"values":[{"k":"a","n":149.2,"p":0.9445,"e":0},{"k":"a","n":165.2,"p":0.95711,"e":1},{"k":"b","n":184.8,"p":0.95048,"e":0},{"k":"b","n":173.3,"p":0.95711,"e":1}]},
 "mark":{"type":"trail","color":"#3ea5b3"},
 "encoding":{"y":{"field":"p","type":"quantitative","scale":{"domain":[0.9302,0.9718],"nice":false,"zero":false},"title":null,"axis":{"orient":"right","values":[0.932,0.934,0.936,0.938,0.94,0.942,0.944,0.946,0.948,0.95,0.952,0.954,0.956,0.96,0.962,0.964,0.966,0.968,0.97],"format":".5f","grid":true,"tickSize":3,"labelPadding":1,"labelOverlap":false,"title":null}},"detail":{"field":"k"},
 "size":{"field":"e","type":"quantitative","scale":{"domain":[0,1],"range":[13,1]},"legend":null}}},
{"data":{"values":[{"n":122.7,"n2":151.6,"p":0.94476,"p2":0.93904},{"n":183.0,"n2":199.6,"p":0.9510,"p2":0.9471}]},"mark":{"type":"rect","color":"#3ea5b3","cornerRadius":3},
 "encoding":{"x2":{"field":"n2"},"y":{"field":"p","type":"quantitative","scale":{"domain":[0.9302,0.9718],"nice":false,"zero":false},"title":null,"axis":{"orient":"right","values":[0.932,0.934,0.936,0.938,0.94,0.942,0.944,0.946,0.948,0.95,0.952,0.954,0.956,0.96,0.962,0.964,0.966,0.968,0.97],"format":".5f","grid":true,"tickSize":3,"labelPadding":1,"labelOverlap":false,"title":null}},"y2":{"field":"p2"}}},
{"data":{"values":[{"n":123.9,"p":0.94385,"t":"The price action"},{"n":123.9,"p":0.94288,"t":"broke down below"},{"n":123.9,"p":0.9419,"t":"the conversion line and"},{"n":123.9,"p":0.94093,"t":"the base line, but remains"},{"n":123.9,"p":0.93995,"t":"above the cloud"}]},
 "mark":{"type":"text","align":"left","baseline":"middle","color":"#ffffff","font":"DejaVu Sans","fontSize":6.7},
 "encoding":{"y":{"field":"p","type":"quantitative","scale":{"domain":[0.9302,0.9718],"nice":false,"zero":false},"title":null,"axis":{"orient":"right","values":[0.932,0.934,0.936,0.938,0.94,0.942,0.944,0.946,0.948,0.95,0.952,0.954,0.956,0.96,0.962,0.964,0.966,0.968,0.97],"format":".5f","grid":true,"tickSize":3,"labelPadding":1,"labelOverlap":false,"title":null}},"text":{"field":"t"}}},
{"data":{"values":[{"n":191.3,"p":0.94996,"t":"Likely"},{"n":191.3,"p":0.94905,"t":"Consolidation"},{"n":191.3,"p":0.94814,"t":"Area"}]},
 "mark":{"type":"text","align":"center","baseline":"middle","color":"#ffffff","font":"DejaVu Sans","fontSize":6.4},
 "encoding":{"y":{"field":"p","type":"quantitative","scale":{"domain":[0.9302,0.9718],"nice":false,"zero":false},"title":null,"axis":{"orient":"right","values":[0.932,0.934,0.936,0.938,0.94,0.942,0.944,0.946,0.948,0.95,0.952,0.954,0.956,0.96,0.962,0.964,0.966,0.968,0.97],"format":".5f","grid":true,"tickSize":3,"labelPadding":1,"labelOverlap":false,"title":null}},"text":{"field":"t"}}},
{"data":{"values":[{"n":187.5,"p":0.96062,"t":"Historic Resistance"},{"n":187.5,"p":0.95932,"t":"@ 0.96000"},{"n":188.6,"p":0.93332,"t":"23.6% Fibonacci"},{"n":188.6,"p":0.93202,"t":"@ 0.93202"}]},
 "mark":{"type":"text","align":"left","baseline":"middle","color":"#4a5665","font":"DejaVu Sans","fontSize":6.4},
 "encoding":{"y":{"field":"p","type":"quantitative","scale":{"domain":[0.9302,0.9718],"nice":false,"zero":false},"title":null,"axis":{"orient":"right","values":[0.932,0.934,0.936,0.938,0.94,0.942,0.944,0.946,0.948,0.95,0.952,0.954,0.956,0.96,0.962,0.964,0.966,0.968,0.97],"format":".5f","grid":true,"tickSize":3,"labelPadding":1,"labelOverlap":false,"title":null}},"text":{"field":"t"}}},
{"data":{"values":[{"n":207.0,"n2":215.0,"p":0.95845,"p2":0.95739}]},"mark":{"type":"rect","color":"#ef5350"},
 "encoding":{"x2":{"field":"n2"},"y":{"field":"p","type":"quantitative","scale":{"domain":[0.9302,0.9718],"nice":false,"zero":false},"title":null,"axis":{"orient":"right","values":[0.932,0.934,0.936,0.938,0.94,0.942,0.944,0.946,0.948,0.95,0.952,0.954,0.956,0.96,0.962,0.964,0.966,0.968,0.97],"format":".5f","grid":true,"tickSize":3,"labelPadding":1,"labelOverlap":false,"title":null}},"y2":{"field":"p2"}}},
{"data":{"values":[{"n":208.0,"p":0.95792,"t":"0.95792"}]},
 "mark":{"type":"text","align":"left","baseline":"middle","color":"#ffffff","font":"Liberation Sans","fontSize":6},
 "encoding":{"y":{"field":"p","type":"quantitative","scale":{"domain":[0.9302,0.9718],"nice":false,"zero":false},"title":null,"axis":{"orient":"right","values":[0.932,0.934,0.936,0.938,0.94,0.942,0.944,0.946,0.948,0.95,0.952,0.954,0.956,0.96,0.962,0.964,0.966,0.968,0.97],"format":".5f","grid":true,"tickSize":3,"labelPadding":1,"labelOverlap":false,"title":null}},"text":{"field":"t"}}},
{"data":{"values":[{"n":-3.3,"p":0.97089,"t":"Australian Dollar/Canadian Dollar, 4h, OANDA"}]},
 "mark":{"type":"text","align":"left","baseline":"middle","color":"#131722","font":"Liberation Sans","fontSize":5.6,"fontWeight":"bold"},
 "encoding":{"y":{"field":"p","type":"quantitative","scale":{"domain":[0.9302,0.9718],"nice":false,"zero":false},"title":null,"axis":{"orient":"right","values":[0.932,0.934,0.936,0.938,0.94,0.942,0.944,0.946,0.948,0.95,0.952,0.954,0.956,0.96,0.962,0.964,0.966,0.968,0.97],"format":".5f","grid":true,"tickSize":3,"labelPadding":1,"labelOverlap":false,"title":null}},"text":{"field":"t"}}},
{"data":{"values":[{"n":-3.3,"p":0.96972,"t":"Ichimoku"}]},
 "mark":{"type":"text","align":"left","baseline":"middle","color":"#50535e","font":"Liberation Sans","fontSize":5.6},
 "encoding":{"y":{"field":"p","type":"quantitative","scale":{"domain":[0.9302,0.9718],"nice":false,"zero":false},"title":null,"axis":{"orient":"right","values":[0.932,0.934,0.936,0.938,0.94,0.942,0.944,0.946,0.948,0.95,0.952,0.954,0.956,0.96,0.962,0.964,0.966,0.968,0.97],"format":".5f","grid":true,"tickSize":3,"labelPadding":1,"labelOverlap":false,"title":null}},"text":{"field":"t"}}}
]
},
{
"width":701,"height":57,
"encoding":{"x":{"field":"n","type":"quantitative","scale":{"domain":[-4.5,206.8],"nice":false,"zero":false},"axis":{"values":[0,18,30,48,60,78,90,108,120,138,150,168,180,198],"labelExpr":"['24','29','Jul','6','8','13','15','20','22','27','29','Aug','5','10'][indexof([0,18,30,48,60,78,90,108,120,138,150,168,180,198], datum.value)]","ticks":true,"tickSize":3,"labelPadding":1,"grid":true,"domain":true,"labelOverlap":false,"title":null}}},
"layer":[
{"data":{"name":"candles"},"transform":[{"window":[{"op":"lag","field":"m","as":"pm"}],"sort":[{"field":"n","order":"ascending"}]}],
 "mark":{"type":"bar","size":2.4},
 "encoding":{"y":{"field":"m","type":"quantitative","scale":{"domain":[-0.00122,0.00511],"nice":false,"zero":false},"title":null,"axis":{"orient":"right","values":[0,0.002],"format":".5f","grid":true,"tickSize":3,"labelPadding":1,"title":null}},"y2":{"datum":0},
 "color":{"condition":[{"test":"datum.m >= 0 && datum.m >= datum.pm","value":"#26a69a"},{"test":"datum.m >= 0","value":"#b2dfdb"},{"test":"datum.m < datum.pm","value":"#ef5350"}],"value":"#ffcdd2"}}},
{"data":{"name":"signal"},"mark":{"type":"line","color":"#ff8a3d","strokeWidth":0.9},
 "encoding":{"y":{"field":"v","type":"quantitative","scale":{"domain":[-0.00122,0.00511],"nice":false,"zero":false},"title":null,"axis":{"orient":"right","values":[0,0.002],"format":".5f","grid":true,"tickSize":3,"labelPadding":1,"title":null}}}},
{"data":{"name":"macd"},"mark":{"type":"line","color":"#2196f3","strokeWidth":0.9},
 "encoding":{"y":{"field":"v","type":"quantitative","scale":{"domain":[-0.00122,0.00511],"nice":false,"zero":false},"title":null,"axis":{"orient":"right","values":[0,0.002],"format":".5f","grid":true,"tickSize":3,"labelPadding":1,"title":null}}}},
{"data":{"values":[{"n":126.6,"v":0.00267}]},"mark":{"type":"point","filled":true,"clip":true,"color":"#00d8ea","opacity":0.65,"size":1936,"shape":"M0,-1A1,1,0,1,1,0,1A1,1,0,1,1,0,-1Z"},
 "encoding":{"y":{"field":"v","type":"quantitative","scale":{"domain":[-0.00122,0.00511],"nice":false,"zero":false},"title":null,"axis":{"orient":"right","values":[0,0.002],"format":".5f","grid":true,"tickSize":3,"labelPadding":1,"title":null}}}},
{"data":{"values":[{"n":164.3,"v":0.00178}]},"mark":{"type":"point","filled":true,"clip":true,"color":"#00d8ea","opacity":0.65,"size":1600,"shape":"M0,-1A1,1,0,1,1,0,1A1,1,0,1,1,0,-1Z"},
 "encoding":{"y":{"field":"v","type":"quantitative","scale":{"domain":[-0.00122,0.00511],"nice":false,"zero":false},"title":null,"axis":{"orient":"right","values":[0,0.002],"format":".5f","grid":true,"tickSize":3,"labelPadding":1,"title":null}}}},
{"data":{"values":[{"n":125.1,"n2":174.9,"v":0.00456,"v2":0.00333}]},"mark":{"type":"rule","color":"#e0474c","strokeWidth":1},
 "encoding":{"x2":{"field":"n2"},"y":{"field":"v","type":"quantitative","scale":{"domain":[-0.00122,0.00511],"nice":false,"zero":false},"title":null,"axis":{"orient":"right","values":[0,0.002],"format":".5f","grid":true,"tickSize":3,"labelPadding":1,"title":null}},"y2":{"field":"v2"}}},
{"data":{"values":[{"n":174.9,"v":0.00333}]},"mark":{"type":"point","filled":false,"color":"#e0474c","strokeWidth":1,"size":64,"angle":3.8,"shape":"M-1,-0.8L0,0L-1,0.8"},
 "encoding":{"y":{"field":"v","type":"quantitative","scale":{"domain":[-0.00122,0.00511],"nice":false,"zero":false},"title":null,"axis":{"orient":"right","values":[0,0.002],"format":".5f","grid":true,"tickSize":3,"labelPadding":1,"title":null}}}},
{"data":{"values":[{"n":171.8,"v":0.00167,"t":"DIVERGENCE"}]},
 "mark":{"type":"text","align":"left","baseline":"middle","color":"#4a5665","font":"Liberation Sans","fontSize":10.5},
 "encoding":{"y":{"field":"v","type":"quantitative","scale":{"domain":[-0.00122,0.00511],"nice":false,"zero":false},"title":null,"axis":{"orient":"right","values":[0,0.002],"format":".5f","grid":true,"tickSize":3,"labelPadding":1,"title":null}},"text":{"field":"t"}}},
{"data":{"values":[{"n":-3.3,"v":0.00433,"t":"MACD"}]},
 "mark":{"type":"text","align":"left","baseline":"middle","color":"#50535e","font":"Liberation Sans","fontSize":5.6},
 "encoding":{"y":{"field":"v","type":"quantitative","scale":{"domain":[-0.00122,0.00511],"nice":false,"zero":false},"title":null,"axis":{"orient":"right","values":[0,0.002],"format":".5f","grid":true,"tickSize":3,"labelPadding":1,"title":null}},"text":{"field":"t"}}}
]
}
]
}
